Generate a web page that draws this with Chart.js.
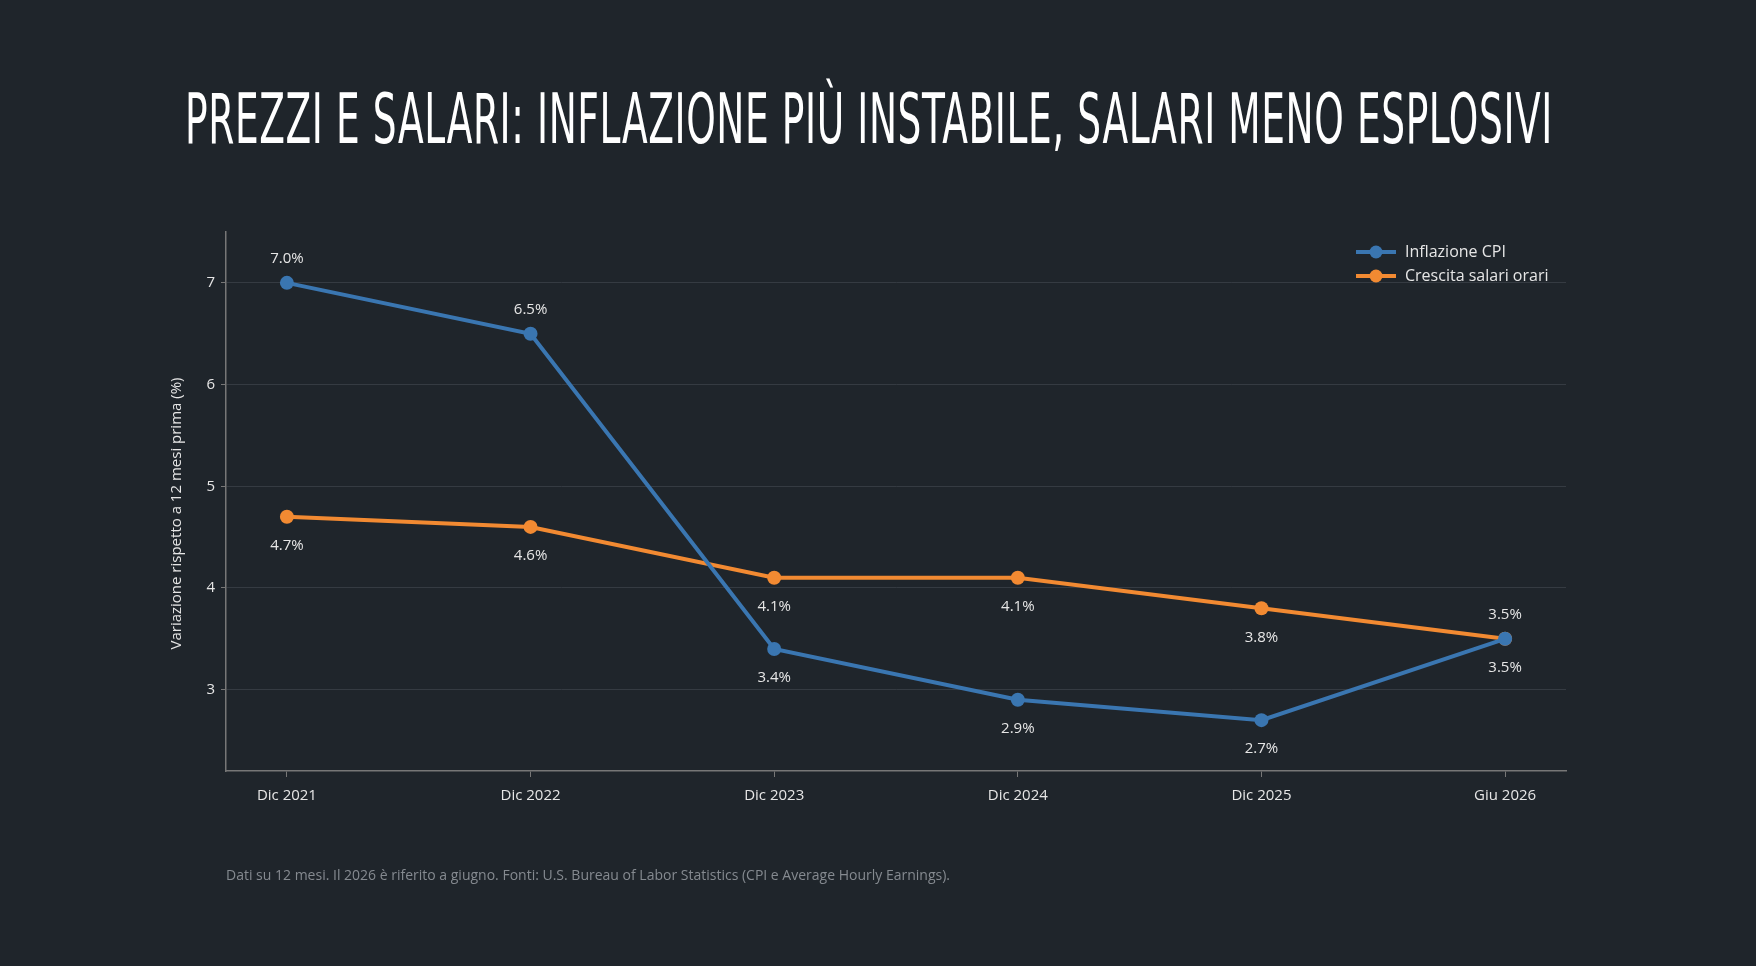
<!DOCTYPE html>
<html>
<head>
<meta charset="utf-8">
<script src="https://cdn.jsdelivr.net/npm/chart.js@4"></script>
<style>
  html, body { margin: 0; padding: 0; background: #1f252b; }
  #wrap { position: relative; width: 1756px; height: 966px; overflow: hidden; }
  #title { position: absolute; top: 78px; left: 869px; margin: 0; white-space: nowrap;
           color: #ffffff; font-family: "Liberation Sans Narrow", "DejaVu Sans Condensed", sans-serif;
           font-weight: normal; font-size: 70px; letter-spacing: 1px; transform-origin: 0 0; }
  #chartBox { position: absolute; left: 0; top: 0; width: 1756px; height: 966px; }
  #foot { position: absolute; left: 226px; top: 865px; color: #858a90; font-family: "Open Sans", sans-serif; font-size: 14px; }
</style>
</head>
<body>
<div id="wrap">
  <h1 id="title">PREZZI E SALARI: INFLAZIONE PIÙ INSTABILE, SALARI MENO ESPLOSIVI</h1>
  <div id="chartBox"><canvas id="c"></canvas></div>
  <div id="foot">Dati su 12 mesi. Il 2026 è riferito a giugno. Fonti: U.S. Bureau of Labor Statistics (CPI e Average Hourly Earnings).</div>
</div>
<script>
// Data
const categories = ["Dic 2021", "Dic 2022", "Dic 2023", "Dic 2024", "Dic 2025", "Giu 2026"];
const cpiValues = [7.0, 6.5, 3.4, 2.9, 2.7, 3.5];
const wageValues = [4.7, 4.6, 4.1, 4.1, 3.8, 3.5];
const seriesNames = ["Inflazione CPI", "Crescita salari orari"];
const yTicks = [3, 4, 5, 6, 7];
const yTitle = "Variazione rispetto a 12 mesi prima (%)";

const BLUE = '#3a76b1';
const ORANGE = '#f28a32';
const FONT = '"Open Sans", Roboto, sans-serif';

// Fit the title to the target width and center it
const title = document.getElementById('title');
const w = title.getBoundingClientRect().width;
const s = 1368 / w;
title.style.transform = 'translateX(' + (-684) + 'px) scaleX(' + s + ')';

function toPoints(vals) {
    return vals.map((v, i) => ({ x: i, y: v }));
}

// Labels, legend and axis title
const extras = {
    id: 'extras',
    afterDatasetsDraw(chart) {
        const ctx = chart.ctx;
        const area = chart.chartArea;
        ctx.save();
        ctx.font = '15px ' + FONT;
        ctx.fillStyle = '#e6e6e6';
        ctx.textAlign = 'center';
        ctx.textBaseline = 'middle';
        const m0 = chart.getDatasetMeta(0), m1 = chart.getDatasetMeta(1);
        for (let i = 0; i < categories.length; i++) {
            const cpiUp = cpiValues[i] > wageValues[i];
            const wageUp = cpiValues[i] === wageValues[i];
            const p0 = m0.data[i], p1 = m1.data[i];
            ctx.fillText(cpiValues[i].toFixed(1) + '%', p0.x, p0.y + (cpiUp ? -24 : 29));
            ctx.fillText(wageValues[i].toFixed(1) + '%', p1.x, p1.y + (wageUp ? -24 : 29));
        }
        // legend
        const colors = [BLUE, ORANGE];
        ctx.textAlign = 'left';
        ctx.font = '16px ' + FONT;
        seriesNames.forEach((name, k) => {
            const y = 252 + k * 24;
            ctx.strokeStyle = colors[k];
            ctx.lineWidth = 4;
            ctx.beginPath(); ctx.moveTo(1356, y); ctx.lineTo(1396, y); ctx.stroke();
            ctx.fillStyle = colors[k];
            ctx.beginPath(); ctx.arc(1376, y, 6.5, 0, Math.PI * 2); ctx.fill();
            ctx.fillStyle = '#e6e6e6';
            ctx.fillText(name, 1405, y);
        });
        // y title
        ctx.translate(177, (area.top + area.bottom) / 2 + 12);
        ctx.rotate(-Math.PI / 2);
        ctx.textAlign = 'center';
        ctx.font = '15px ' + FONT;
        ctx.fillText(yTitle, 0, 0);
        ctx.restore();
    }
};

new Chart(document.getElementById('c'), {
    type: 'line',
    data: {
        datasets: [
            { label: seriesNames[0], data: toPoints(cpiValues), borderColor: BLUE, backgroundColor: BLUE,
              borderWidth: 4, pointRadius: 7, pointBackgroundColor: BLUE, pointBorderWidth: 0, tension: 0 },
            { label: seriesNames[1], data: toPoints(wageValues), borderColor: ORANGE, backgroundColor: ORANGE,
              borderWidth: 4, pointRadius: 7, pointBackgroundColor: ORANGE, pointBorderWidth: 0, tension: 0 }
        ]
    },
    options: {
        responsive: true,
        maintainAspectRatio: false,
        animation: false,
        layout: { padding: { left: 150, right: 190, top: 232, bottom: 135 } },
        plugins: { legend: { display: false }, tooltip: { enabled: false } },
        scales: {
            x: {
                type: 'linear', min: -0.25, max: 5.25,
                afterBuildTicks: ax => { ax.ticks = categories.map((c, i) => ({ value: i })); },
                afterFit: ax => { ax.height = 60; },
                ticks: { color: '#e6e6e6', font: { size: 15, family: FONT }, padding: 10,
                         callback: v => categories[v] },
                grid: { drawOnChartArea: false, color: '#777', tickLength: 6 },
                border: { color: '#777', width: 1.5 }
            },
            y: {
                min: 2.2, max: 7.5,
                afterBuildTicks: ax => { ax.ticks = yTicks.map(v => ({ value: v })); },
                afterFit: ax => { ax.width = 76; },
                ticks: { color: '#e6e6e6', font: { size: 15, family: FONT }, padding: 6 },
                grid: { color: '#353b42', tickLength: 5, tickColor: '#777' },
                border: { color: '#777', width: 1.5 }
            }
        }
    },
    plugins: [extras]
});
</script>
</body>
</html>
